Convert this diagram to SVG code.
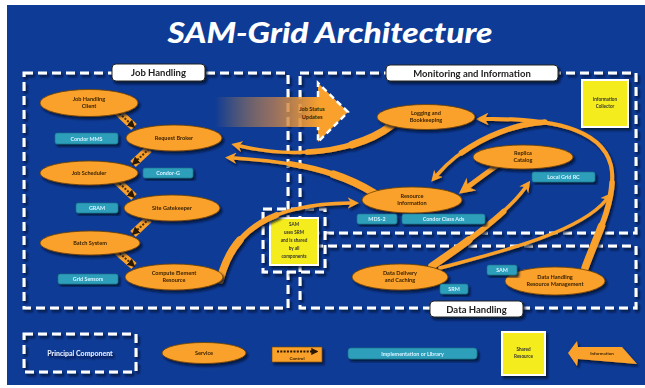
<svg xmlns="http://www.w3.org/2000/svg" width="645" height="388" viewBox="0 0 645 388">
<defs>
<style>
.box{fill:none;stroke:#fff;stroke-width:3;stroke-dasharray:9 5}
.lbl{fill:#fff;stroke:#222;stroke-width:1}
.lbt{font-family:Lato,"Liberation Sans",sans-serif;font-weight:700;font-size:9.5px;fill:#222;text-anchor:middle}
.svc{fill:#f9a12c;stroke:#6b4000;stroke-width:0.8}
.st{font-family:Lato,"Liberation Sans",sans-serif;font-weight:700;font-size:5.6px;fill:#3a2200;text-anchor:middle}
.imp{fill:#2f9fbb;stroke:#1a6f88;stroke-width:0.6}
.it{font-family:Lato,"Liberation Sans",sans-serif;font-weight:700;font-size:5.4px;fill:#d8f4ff;text-anchor:middle}
.yel{fill:#f4ec1c;stroke:#fff;stroke-width:2}
.yt{font-family:Lato,"Liberation Sans",sans-serif;font-weight:700;font-size:4.6px;fill:#333;text-anchor:middle}
.info{fill:none;stroke:#f9a12c;stroke-linecap:round;marker-end:url(#ah)}
.t1{fill:none;stroke:#f9a12c;stroke-linecap:round;stroke-width:5.5;stroke-dasharray:90 3000}
.t2{fill:none;stroke:#f9a12c;stroke-linecap:round;stroke-width:7.5;stroke-dasharray:45 3000}
.ctlb{stroke:#f9a12c;stroke-width:8;stroke-linecap:butt}
.ctld{stroke:#4a2c00;stroke-width:2;stroke-dasharray:2 1.5;marker-end:url(#ch)}
</style>
<filter id="sh" x="-20%" y="-20%" width="140%" height="150%">
<feDropShadow dx="2" dy="2.5" stdDeviation="1.3" flood-color="#000a2a" flood-opacity="0.8"/>
</filter>
<marker id="ah" viewBox="0 0 10 10" refX="2" refY="5" markerWidth="3.2" markerHeight="3.2" orient="auto-start-reverse" markerUnits="strokeWidth">
<path d="M0,5 L10,0 L7,5 L10,10 Z" fill="#f9a12c" transform="rotate(180 5 5)"/>
</marker>
<marker id="ch" viewBox="0 0 10 10" refX="8" refY="5" markerWidth="4" markerHeight="4" orient="auto">
<path d="M0,0 L10,5 L0,10 Z" fill="#2a1800"/>
</marker>
<linearGradient id="jsg" x1="215" y1="0" x2="320" y2="0" gradientUnits="userSpaceOnUse">
<stop offset="0" stop-color="#f9a12c" stop-opacity="0"/>
<stop offset="0.55" stop-color="#c08050" stop-opacity="0.75"/>
<stop offset="1" stop-color="#f9a12c"/>
</linearGradient>
</defs>

<rect x="0" y="0" width="645" height="388" fill="#fff"/>
<rect x="7" y="5" width="638" height="380" fill="#0e3b95"/>

<text x="330" y="43" font-family="Lato,'Liberation Sans',sans-serif" font-weight="900" font-style="italic" font-size="29" fill="#fff" text-anchor="middle" textLength="325" lengthAdjust="spacingAndGlyphs">SAM-Grid Architecture</text>

<g id="principal-boxes" filter="url(#sh)">
<rect class="box" x="24" y="73" width="264" height="235"/>
<rect class="box" x="300" y="73" width="336" height="160"/>
<rect class="box" x="300" y="246" width="336" height="62"/>
</g>

<g id="shared-sam" filter="url(#sh)">
<rect x="263" y="209" width="62" height="63" fill="#0e3b95" class="box"/>
<rect class="yel" x="270" y="218" width="48" height="47"/>
<text class="yt" x="294" y="226">SAM</text>
<text class="yt" x="294" y="234">uses SRM</text>
<text class="yt" x="294" y="242">and is shared</text>
<text class="yt" x="294" y="250">by all</text>
<text class="yt" x="294" y="258">components</text>
</g>

<g id="job-status-updates">
<path d="M215,97 L318,97 L318,83 L348,112 L318,142 L318,127 L215,127 Z" fill="url(#jsg)"/>
<path d="M318,97 L318,83 L348,112 L318,142 L318,127" fill="none" stroke="#fff" stroke-width="2.5" stroke-dasharray="6 4"/>
<text class="st" x="312" y="111">Job Status</text>
<text class="st" x="312" y="119">Updates</text>
</g>

<g id="labels" filter="url(#sh)">
<rect class="lbl" x="112" y="64" width="93" height="17" rx="4"/>
<text class="lbt" x="158.5" y="76">Job Handling</text>
<rect class="lbl" x="386" y="65" width="172" height="16" rx="4"/>
<text class="lbt" x="472" y="76.5">Monitoring and Information</text>
<rect class="lbl" x="430" y="301" width="93" height="16" rx="4"/>
<text class="lbt" x="476.5" y="312.5">Data Handling</text>
</g>

<g id="info-collector" filter="url(#sh)">
<rect class="yel" x="582" y="80" width="46" height="47"/>
<text class="yt" x="605" y="101">Information</text>
<text class="yt" x="605" y="108">Collector</text>
</g>

<g id="connectors">
<g filter="url(#sh)">
<path class="info" stroke-width="3.5" d="M392,125 C360,150 300,160 240,146"/>
<path class="t1" d="M392,125 C360,150 300,160 240,146"/>
<path class="t2" d="M392,125 C360,150 300,160 240,146"/>
<path class="info" stroke-width="3.5" d="M374,193 C340,172 300,162 234,158"/>
<path class="t1" d="M374,193 C340,172 300,162 234,158"/>
<path class="t2" d="M374,193 C340,172 300,162 234,158"/>
<path class="info" stroke-width="3.5" d="M220,280 C232,232 268,204 350,203"/>
<path class="t1" d="M220,280 C232,232 268,204 350,203"/>
<path class="t2" d="M220,280 C232,232 268,204 350,203"/>
<path class="info" stroke-width="5" d="M502,162 Q482,176 469,186"/>
<path class="info" stroke-width="3.5" d="M432,266 C470,240 508,212 525,188"/>
<path class="t1" d="M432,266 C470,240 508,212 525,188"/>
<path class="t2" d="M432,266 C470,240 508,212 525,188"/>
<path class="info" stroke-width="3.5" d="M440,268 C500,252 580,232 606,200"/>
<path class="info" stroke-width="4" d="M585,268 C598,232 614,205 612,172 C608,132 560,118 486,119"/>
<path class="t1" d="M585,268 C598,232 614,205 612,172 C608,132 560,118 486,119"/>
<path class="t2" d="M585,268 C598,232 614,205 612,172 C608,132 560,118 486,119"/>
<path class="info" stroke-width="3.5" d="M545,122 C500,125 458,150 437,175"/>
<path class="t1" stroke-dasharray="40 3000" d="M545,122 C500,125 458,150 437,175"/>
</g>
<g>
<line class="ctlb" x1="117" y1="111" x2="134" y2="127"/><line class="ctld" x1="117" y1="111" x2="134" y2="127"/>
<line class="ctlb" x1="149" y1="149" x2="133" y2="164"/><line class="ctld" x1="149" y1="149" x2="133" y2="164"/>
<line class="ctlb" x1="117" y1="181" x2="134" y2="197"/><line class="ctld" x1="117" y1="181" x2="134" y2="197"/>
<line class="ctlb" x1="149" y1="219" x2="133" y2="234"/><line class="ctld" x1="149" y1="219" x2="133" y2="234"/>
<line class="ctlb" x1="117" y1="251" x2="134" y2="266"/><line class="ctld" x1="117" y1="251" x2="134" y2="266"/>
</g>
</g>

<g id="job-handling-client" filter="url(#sh)"><ellipse class="svc" cx="89" cy="103" rx="49" ry="13.5"/><text class="st" x="89" y="101">Job Handling</text><text class="st" x="89" y="108">Client</text></g>
<g id="request-broker" filter="url(#sh)"><ellipse class="svc" cx="174" cy="138" rx="48" ry="13"/><text class="st" x="174" y="140">Request Broker</text></g>
<g id="job-scheduler" filter="url(#sh)"><ellipse class="svc" cx="89" cy="173" rx="49" ry="12"/><text class="st" x="89" y="175">Job Scheduler</text></g>
<g id="site-gatekeeper" filter="url(#sh)"><ellipse class="svc" cx="172" cy="208" rx="48" ry="13"/><text class="st" x="172" y="210">Site Gatekeeper</text></g>
<g id="batch-system" filter="url(#sh)"><ellipse class="svc" cx="90" cy="243" rx="50" ry="12"/><text class="st" x="90" y="245">Batch System</text></g>
<g id="compute-element-resource" filter="url(#sh)"><ellipse class="svc" cx="174" cy="277" rx="49" ry="13"/><text class="st" x="174" y="275">Compute Element</text><text class="st" x="174" y="282">Resource</text></g>

<g id="logging-bookkeeping" filter="url(#sh)"><ellipse class="svc" cx="426" cy="117" rx="49" ry="12.5"/><text class="st" x="426" y="115">Logging and</text><text class="st" x="426" y="122">Bookkeeping</text></g>
<g id="replica-catalog" filter="url(#sh)"><ellipse class="svc" cx="523" cy="157" rx="50" ry="12"/><text class="st" x="523" y="155">Replica</text><text class="st" x="523" y="162">Catalog</text></g>
<g id="resource-information" filter="url(#sh)"><ellipse class="svc" cx="412" cy="200" rx="50" ry="13"/><text class="st" x="412" y="198">Resource</text><text class="st" x="412" y="205">Information</text></g>
<g id="data-delivery-caching" filter="url(#sh)"><ellipse class="svc" cx="400" cy="277" rx="48" ry="13"/><text class="st" x="400" y="275">Data Delivery</text><text class="st" x="400" y="282">and Caching</text></g>
<g id="dh-resource-management" filter="url(#sh)"><ellipse class="svc" cx="555" cy="281" rx="50" ry="14"/><text class="st" x="555" y="279">Data Handling</text><text class="st" x="555" y="286">Resource Management</text></g>

<g id="impl-condor-mms" filter="url(#sh)"><rect class="imp" x="55" y="133" width="63" height="11" rx="2"/><text class="it" x="86.5" y="140.5">Condor MMS</text></g>
<g id="impl-condor-g" filter="url(#sh)"><rect class="imp" x="143" y="168" width="50" height="10" rx="2"/><text class="it" x="168" y="175">Condor-G</text></g>
<g id="impl-gram" filter="url(#sh)"><rect class="imp" x="76" y="203" width="42" height="10" rx="2"/><text class="it" x="97" y="210">GRAM</text></g>
<g id="impl-grid-sensors" filter="url(#sh)"><rect class="imp" x="58" y="274" width="60" height="10" rx="2"/><text class="it" x="88" y="281">Grid Sensors</text></g>
<g id="impl-mds" filter="url(#sh)"><rect class="imp" x="357" y="214" width="40" height="10" rx="2"/><text class="it" x="377" y="221">MDS-2</text></g>
<g id="impl-condor-class-ads" filter="url(#sh)"><rect class="imp" x="402" y="214" width="83" height="10" rx="2"/><text class="it" x="443.5" y="221">Condor Class Ads</text></g>
<g id="impl-local-grid-rc" filter="url(#sh)"><rect class="imp" x="532" y="172" width="63" height="10" rx="2"/><text class="it" x="563.5" y="179">Local Grid RC</text></g>
<g id="impl-sam" filter="url(#sh)"><rect class="imp" x="487" y="265" width="30" height="10" rx="2"/><text class="it" x="502" y="272">SAM</text></g>
<g id="impl-srm" filter="url(#sh)"><rect class="imp" x="440" y="284" width="28" height="10" rx="2"/><text class="it" x="454" y="291">SRM</text></g>

<g id="legend">
<g filter="url(#sh)">
<rect class="box" x="24" y="334" width="112" height="38"/>
<text x="80" y="355.5" font-family="Lato,'Liberation Sans',sans-serif" font-weight="700" font-size="7px" fill="#e8eeff" text-anchor="middle">Principal Component</text>
</g>
<g filter="url(#sh)"><ellipse class="svc" cx="204" cy="353" rx="42" ry="10.5"/><text class="st" x="204" y="355">Service</text></g>
<g filter="url(#sh)">
<rect x="272" y="347" width="50" height="15" fill="#f9a12c" stroke="#6b4000" stroke-width="0.6"/>
<line x1="277" y1="351.5" x2="317" y2="351.5" stroke="#2a1800" stroke-width="1.8" stroke-dasharray="2 1.3" marker-end="url(#ch)"/>
<text x="297" y="359.5" font-family="Lato,'Liberation Sans',sans-serif" font-weight="700" font-size="4.5px" fill="#3a2200" text-anchor="middle">Control</text>
</g>
<g filter="url(#sh)"><rect class="imp" x="348" y="348" width="129" height="11" rx="3"/><text class="it" x="412.5" y="355.5">Implementation or Library</text></g>
<g filter="url(#sh)"><rect class="yel" x="502" y="332" width="43" height="43"/><text class="yt" x="523.5" y="351">Shared</text><text class="yt" x="523.5" y="358">Resource</text></g>
<g filter="url(#sh)">
<path d="M568,353 L577,341 L578,347 L622,347 L637,364 L578,359 L577,366 Z" fill="#f9a12c"/>
<text x="602" y="355" font-family="Lato,'Liberation Sans',sans-serif" font-weight="700" font-size="4.5px" fill="#3a2200" text-anchor="middle">Information</text>
</g>
</g>
</svg>
